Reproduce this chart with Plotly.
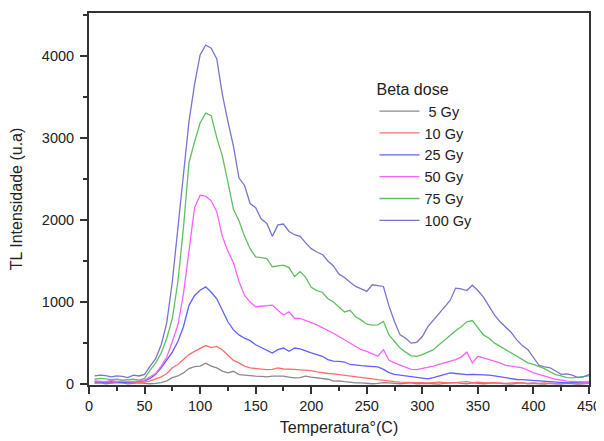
import plotly.graph_objects as go

# temperature (°C), one sample every 5 degrees
temperatura = list(range(5, 451, 5))

gy5 = [10, 15, 5, 10, 20, 15, 5, 10, 15, 10,
       5, 10, 20, 40, 80, 100, 137, 190, 215, 220,
       255, 220, 198, 160, 137, 157, 117, 110, 100, 97,
       95, 90, 97, 100, 97, 85, 77, 80, 97, 85,
       77, 70, 60, 37, 40, 30, 20, 17, 15, 10,
       5, 10, 20, 15, 10, 5, 10, 15, 5, 10,
       10, 5, 0, 10, 15, 20, 10, 5, 15, 10,
       5, 10, 15, 10, 5, 0, 10, 15, 5, 10,
       5, 0, 10, 5, 0, 10, 5, 0, 5, 10]

gy10 = [20, 25, 30, 20, 25, 30, 20, 25, 20, 25,
        40, 65, 90, 130, 200, 240, 300, 360, 400, 440,
        470, 445, 460, 420, 360, 290, 259, 220, 198, 190,
        180, 178, 180, 198, 185, 178, 180, 175, 170, 165,
        150, 137, 130, 125, 117, 110, 100, 97, 90, 80,
        65, 55, 45, 37, 30, 25, 20, 15, 18, 20,
        15, 20, 25, 20, 15, 20, 25, 30, 20, 25,
        20, 15, 20, 15, 10, 15, 20, 15, 10, 15,
        10, 15, 10, 5, 10, 15, 10, 5, 10, 15]

gy25 = [30, 25, 20, 30, 25, 20, 25, 30, 35, 40,
        70, 120, 200, 290, 390, 520, 700, 960, 1080, 1144,
        1185, 1120, 1040, 900, 760, 661, 600, 560, 530, 480,
        445, 420, 380, 420, 440, 400, 440, 430, 400, 380,
        360, 340, 300, 280, 278, 270, 240, 230, 225, 220,
        218, 210, 180, 140, 120, 110, 100, 97, 85, 70,
        65, 80, 97, 120, 137, 130, 120, 117, 120, 117,
        118, 110, 100, 89, 80, 70, 57, 55, 50, 45,
        40, 37, 30, 25, 20, 17, 20, 25, 25, 25]

gy50 = [40, 35, 30, 45, 30, 40, 35, 30, 40, 50,
        90, 130, 220, 330, 520, 720, 1100, 1600, 2150, 2300,
        2290, 2233, 2100, 1800, 1620, 1480, 1250, 1080, 1000, 943,
        950, 950, 963, 900, 843, 880, 800, 802, 780, 750,
        722, 690, 661, 620, 580, 540, 510, 460, 420, 400,
        370, 340, 420, 290, 260, 230, 200, 180, 178, 190,
        210, 220, 240, 260, 280, 300, 330, 390, 259, 340,
        320, 300, 280, 259, 230, 218, 205, 198, 170, 137,
        120, 100, 77, 60, 50, 37, 35, 30, 25, 25]

gy75 = [60, 70, 65, 55, 60, 50, 55, 60, 50, 70,
        170, 260, 380, 560, 800, 1250, 1900, 2700, 2950, 3180,
        3300, 3270, 3000, 2780, 2460, 2130, 1990, 1800, 1650, 1550,
        1540, 1530, 1430, 1440, 1450, 1420, 1310, 1370, 1300, 1180,
        1140, 1120, 1040, 1000, 940, 880, 900, 820, 780, 730,
        720, 722, 765, 600, 520, 440, 390, 345, 340, 360,
        390, 420, 480, 540, 600, 650, 700, 760, 775, 690,
        600, 560, 500, 460, 420, 380, 340, 300, 260, 240,
        210, 190, 150, 117, 100, 80, 77, 85, 97, 100]

gy100 = [100, 110, 105, 90, 100, 95, 80, 110, 100, 120,
         220, 310, 480, 750, 1250, 1900, 2550, 3200, 3650, 4010,
         4130, 4090, 3960, 3530, 3200, 2900, 2510, 2420, 2200, 2150,
         2010, 1960, 1800, 1940, 1950, 1860, 1820, 1800, 1720, 1650,
         1610, 1580, 1500, 1440, 1340, 1300, 1240, 1190, 1160, 1130,
         1210, 1200, 1190, 950, 760, 600, 560, 500, 510, 580,
         700, 780, 860, 940, 1020, 1170, 1160, 1140, 1205, 1140,
         1060, 950, 840, 760, 690, 630, 540, 470, 420, 330,
         230, 210, 200, 160, 120, 125, 110, 80, 90, 117]

nomes = ["\u00a05 Gy", "10 Gy", "25 Gy", "50 Gy", "75 Gy", "100 Gy"]
cores = ["#8a8a8a", "#ff6e6e", "#6060ff", "#ff60ff", "#60c060", "#7676cf"]
series = [gy5, gy10, gy25, gy50, gy75, gy100]

fig = go.Figure()
for nome, cor, ys in zip(nomes, cores, series):
    fig.add_scatter(x=temperatura, y=ys, mode="lines", name=nome,
                    line=dict(color=cor, width=1.3))

# page body has an 8px margin, so the figure is 8px smaller each way
fig.update_layout(
    width=596, height=433,
    paper_bgcolor="white", plot_bgcolor="white",
    font=dict(family="Liberation Sans, Arial, sans-serif", color="#222222"),
    margin=dict(l=81, r=11, t=3, b=56),
    showlegend=True,
    legend=dict(title=dict(text="Beta dose", font=dict(size=16)),
                x=0.571, y=0.835, xanchor="left", yanchor="top",
                bgcolor="rgba(0,0,0,0)", font=dict(size=14.5),
                tracegroupgap=0, itemwidth=40),
)

fig.update_xaxes(range=[0, 450], dtick=50, tick0=0,
                 showline=True, linecolor="#333333", linewidth=2, mirror=True,
                 ticks="outside", ticklen=7, tickwidth=1.5, tickcolor="#333333",
                 minor=dict(dtick=25, ticks="outside", ticklen=4, tickwidth=1.5,
                            tickcolor="#333333"),
                 showgrid=False, zeroline=False,
                 ticklabeloverflow="allow",
                 tickfont=dict(size=14.5, color="#222222"),
                 title=dict(text="Temperatura°(C)", font=dict(size=16), standoff=8))

fig.update_yaxes(range=[-10, 4520], dtick=1000, tick0=0,
                 showline=True, linecolor="#333333", linewidth=2, mirror=True,
                 ticks="outside", ticklen=7, tickwidth=1.5, tickcolor="#333333",
                 minor=dict(dtick=500, ticks="outside", ticklen=4, tickwidth=1.5,
                            tickcolor="#333333"),
                 showgrid=False, zeroline=False,
                 tickfont=dict(size=14.5, color="#222222"),
                 ticklabelstandoff=3,
                 title=dict(text="TL Intensidade (u.a)", font=dict(size=16), standoff=16))

fig.write_html("out.html")
